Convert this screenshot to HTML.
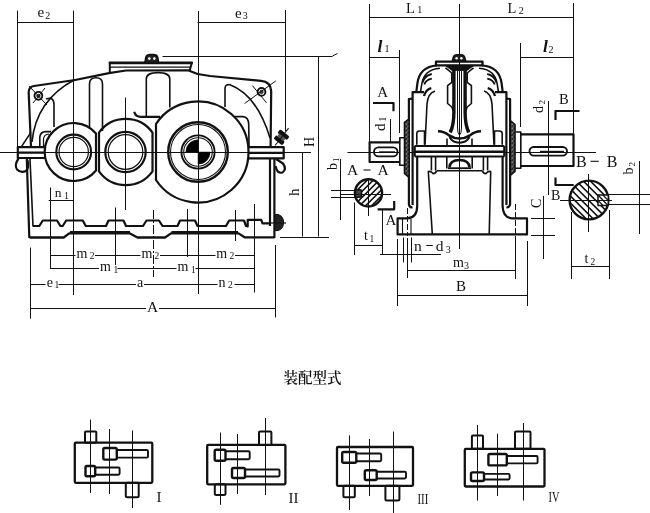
<!DOCTYPE html>
<html lang="zh"><head><meta charset="utf-8"><title>装配型式</title>
<style>
html,body{margin:0;padding:0;background:#fff;}
body{width:650px;height:513px;overflow:hidden;}
svg{display:block;will-change:transform;}
svg text{font-family:"Liberation Serif","Noto Serif CJK SC",serif;fill:#111;stroke:none;}
</style></head><body>
<svg width="650" height="513" viewBox="0 0 650 513" stroke="#111" fill="none" stroke-linecap="butt" stroke-linejoin="round">
<rect x="0" y="0" width="650" height="513" fill="#fff" stroke="none"/>
<g id="leftview">
<line x1="0" y1="152.5" x2="311" y2="152.5" stroke-width="1.0" />
<line x1="17.5" y1="10.5" x2="17.5" y2="148" stroke-width="1.0" />
<line x1="73.5" y1="10.5" x2="73.5" y2="295" stroke-width="1.0" />
<line x1="125.5" y1="97.5" x2="125.5" y2="210" stroke-width="1.0" />
<line x1="198.5" y1="11" x2="198.5" y2="294" stroke-width="1.0" />
<line x1="285.5" y1="10" x2="285.5" y2="131" stroke-width="1.0" />
<line x1="17.5" y1="22.5" x2="73.7" y2="22.5" stroke-width="1.0" />
<line x1="197.5" y1="22.5" x2="285.5" y2="22.5" stroke-width="1.0" />
<text x="37.5" y="17.2" font-size="15" text-anchor="start">e<tspan font-size="10" dx="1" dy="1.5" font-style="normal" font-weight="normal">2</tspan></text>
<text x="235" y="17.6" font-size="15" text-anchor="start">e<tspan font-size="10" dx="1" dy="1.5" font-style="normal" font-weight="normal">3</tspan></text>
<line x1="108.8" y1="62.9" x2="192.8" y2="62.9" stroke-width="2.6" />
<line x1="109.5" y1="67.2" x2="191" y2="67.2" stroke-width="1.3" />
<path d="M109.8,62 L109.8,72.8 M192,62 L189.5,71.2" stroke-width="2" fill="none" />
<path d="M145,62.5 L145.8,57.5 Q146.5,54.6 150,54.6 L153.5,54.6 Q157,54.6 157.8,57.5 L158.5,62.5 Z" stroke-width="1.6" fill="#222" />
<circle cx="149.3" cy="58.6" r="1.3" fill="#fff" stroke="none"/><circle cx="154.3" cy="58.6" r="1.3" fill="#fff" stroke="none"/>
<path d="M31,147 L28.7,93 Q28.3,87 34,86 L75,80 L109,73.2 L126,70.5 L188,70.3 L197.5,74 L210,76 L261,80.9 Q270.8,81.8 271.2,91 L270.6,146" stroke-width="2.2" fill="none" />
<path d="M30.9,132.4 L21.6,146.4" stroke-width="1.6" fill="none" />
<path d="M75,79.5 Q36,100 32,142" stroke-width="1.6" fill="none" />
<path d="M46,99 Q53.5,96 54,104 L54,127" stroke-width="1.6" fill="none" />
<circle cx="38.4" cy="95.8" r="3.9" stroke-width="1.9" fill="none"/>
<circle cx="38.4" cy="95.8" r="1.6" stroke-width="1" fill="#555"/>
<line x1="29" y1="86" x2="47" y2="105" stroke-width="1.0" />
<line x1="45" y1="88" x2="33" y2="103" stroke-width="1.0" />
<circle cx="261.5" cy="91.9" r="3.9" stroke-width="1.9" fill="none"/>
<circle cx="261.5" cy="91.9" r="1.6" stroke-width="1" fill="#555"/>
<line x1="252.4" y1="85.6" x2="266.5" y2="102.8" stroke-width="1.0" />
<line x1="275.8" y1="80.9" x2="244.6" y2="103.5" stroke-width="1.0" />
<path d="M89.5,127 L89.5,84 Q89.5,77.8 96,77.8 Q102.5,77.8 102.5,84 L102.5,131" stroke-width="1.6" fill="none" />
<path d="M146.3,116 L146.3,79 Q146.3,72.6 158,72.6 Q169.8,72.6 169.8,79 L169.8,107.5" stroke-width="1.6" fill="none" />
<path d="M134.2,111.8 Q135.5,116.9 141,116.9 L160,116.9" stroke-width="2.2" fill="none" />
<path d="M225,107 L225,88.5 Q225.3,83.8 230,84.8 Q257,95 270,138" stroke-width="1.6" fill="none" />
<path d="M235,116.6 L243,116.6 Q248.4,117 248.7,124 L249,146" stroke-width="1.6" fill="none" />
<path d="M96,133.5 A29 29 0 1 0 96,170.5 Z" stroke-width="2.2" fill="none" />
<path d="M99,132.6 A33 33 0 0 1 152.5,132.6 L152.5,171.4 A33 33 0 0 1 99,171.4 Z" stroke-width="2.2" fill="none" />
<path d="M156,124 A50.5 50.5 0 1 1 156,180 Z" stroke-width="2.2" fill="none" />
<path d="M39.8,147 L39.8,137 Q40.3,131.6 46,131.6 L51,131.6" stroke-width="1.6" fill="none" />
<path d="M43.5,147 L43.5,139 Q44,134.3 49,134 " stroke-width="1.2" fill="none" />
<circle cx="73.7" cy="152" r="17.4" stroke-width="2.1" fill="none"/>
<circle cx="73.7" cy="152" r="14.7" stroke-width="1.2" fill="none"/>
<circle cx="125.5" cy="152" r="20.2" stroke-width="2.2" fill="none"/>
<circle cx="125.5" cy="152" r="17.3" stroke-width="1.2" fill="none"/>
<circle cx="198" cy="152" r="29.8" stroke-width="2.4" fill="none"/>
<circle cx="198" cy="152" r="27.5" stroke-width="1.1" fill="none"/>
<circle cx="198" cy="152" r="16.6" stroke-width="1.9" fill="none"/>
<circle cx="198" cy="152" r="14.3" stroke-width="1.1" fill="none"/>
<path d="M198,152 L198,139.8 A12.2 12.2 0 0 0 185.8,152 Z" stroke-width="0.5" fill="#000" />
<path d="M198,152 L198,164.2 A12.2 12.2 0 0 0 210.2,152 Z" stroke-width="0.5" fill="#000" />
<path d="M45,147.2 L17.8,147.2 L17.8,158 L45.5,158 M17.8,152.6 L45,152.6" stroke-width="2.2" fill="none" />
<path d="M18.5,158.5 Q14,165 17,169.5 Q21,173.5 26,171 Q29.5,167 27.5,160" stroke-width="2.2" fill="none" />
<path d="M248.5,147.2 L283.7,147.2 L283.7,158.3 L248.5,158.3 M248.5,152.8 L283.7,152.8" stroke-width="2.2" fill="none" />
<path d="M276,159 L283,163.5 Q287,169 282.5,172.5 Q277,174 275.5,166" stroke-width="2.2" fill="none" />
<g transform="translate(280.6,138.4) rotate(38)"><rect x="-6" y="-7" width="12" height="4.6" rx="1.5" fill="#111" stroke="none"/><rect x="-5.5" y="0" width="11" height="4.6" rx="1.5" fill="#111" stroke="none"/><rect x="-4" y="-3" width="8" height="3.5" fill="#555" stroke="none"/><line x1="0" y1="-13" x2="0" y2="9" stroke-width="1"/></g>
<path d="M26.8,159 L29.3,238" stroke-width="2.2" fill="none" />
<path d="M30,159 L33,226" stroke-width="1.6" fill="none" />
<path d="M270,159 L270,226 M274.4,159 L274.4,238" stroke-width="2.2" fill="none" />
<path d="M32.5,226 L39.3,226 L42.8,220.5 L57,220.5 L60.4,226 L62.7,226 L66.2,220.5 L82.8,220.5 L85.8,226 L106,226 L108.5,220.5 L123.5,220.5 L126,226 L143,226 L146.5,220.5 L159,220.5 L162.5,226 L177.5,226 L180,220.5 L195,220.5 L197.5,226 L226,226 L229.2,220.5 L244,220.5 L246,226 L247.7,226.3 L247.7,219.8 L261.2,219.8 L262.5,223.3 L270,223.3" stroke-width="2.2" fill="none" />
<path d="M29.5,237.5 L63.7,237.5 L69.2,233.4 L130,233.4 L137.5,237.5 L165,237.5 L171,233.4 L238.5,233.4 L244.6,237.3 L274.5,237.3" stroke-width="2.3" fill="none" />
<path d="M70,232.6 L130,232.6 M171.5,232.6 L238,232.6" stroke-width="3" fill="none" />
<path d="M275.2,214.5 L278,214.5 Q283.6,216 283.6,222.5 Q283.6,229 278,230.6 L275.2,230.6 Z" stroke-width="1" fill="#222" />
<line x1="270" y1="223" x2="286" y2="223" stroke-width="1.2" />
<line x1="50.5" y1="187.5" x2="50.5" y2="269" stroke-width="1.0" />
<line x1="115.5" y1="207.5" x2="115.5" y2="265" stroke-width="1.0" />
<line x1="153.5" y1="210" x2="153.5" y2="277" stroke-width="1.0" stroke-dasharray="9 2 2 2"/>
<line x1="187.5" y1="209" x2="187.5" y2="257" stroke-width="1.0" />
<line x1="235.5" y1="210" x2="235.5" y2="241" stroke-width="1.0" />
<line x1="254.5" y1="204" x2="254.5" y2="292.5" stroke-width="1.0" />
<line x1="30.5" y1="247.5" x2="30.5" y2="318.7" stroke-width="1.0" />
<line x1="275.5" y1="245" x2="275.5" y2="317.5" stroke-width="1.0" />
<line x1="48.7" y1="200.5" x2="73.7" y2="200.5" stroke-width="1.0" />
<text x="54.8" y="196.5" font-size="13.5" text-anchor="start">n<tspan font-size="10" dx="2.5" dy="2" font-style="normal" font-weight="normal">1</tspan></text>
<line x1="50" y1="255.5" x2="75.5" y2="255.5" stroke-width="1.0" />
<line x1="95" y1="255.5" x2="140.5" y2="255.5" stroke-width="1.0" />
<line x1="160" y1="255.5" x2="215.5" y2="255.5" stroke-width="1.0" />
<line x1="235" y1="255.5" x2="254.5" y2="255.5" stroke-width="1.0" />
<text x="76.6" y="257.6" font-size="14" text-anchor="start">m<tspan font-size="9.5" dx="2.2" dy="1.2" font-style="normal" font-weight="normal">2</tspan></text>
<text x="141.4" y="257.6" font-size="14" text-anchor="start">m<tspan font-size="9.5" dx="2.2" dy="1.2" font-style="normal" font-weight="normal">2</tspan></text>
<text x="216.3" y="257.6" font-size="14" text-anchor="start">m<tspan font-size="9.5" dx="2.2" dy="1.2" font-style="normal" font-weight="normal">2</tspan></text>
<line x1="50" y1="268.5" x2="99" y2="268.5" stroke-width="1.0" />
<line x1="117.5" y1="268.5" x2="176.5" y2="268.5" stroke-width="1.0" />
<line x1="195.5" y1="268.5" x2="254.5" y2="268.5" stroke-width="1.0" />
<text x="100" y="271.3" font-size="14" text-anchor="start">m<tspan font-size="9.5" dx="2.6" dy="1.2" font-style="normal" font-weight="normal">1</tspan></text>
<text x="177.6" y="271.3" font-size="14" text-anchor="start">m<tspan font-size="9.5" dx="2.6" dy="1.2" font-style="normal" font-weight="normal">1</tspan></text>
<line x1="30.5" y1="284.5" x2="45.5" y2="284.5" stroke-width="1.0" />
<line x1="58.5" y1="284.5" x2="136" y2="284.5" stroke-width="1.0" />
<line x1="144" y1="284.5" x2="217.5" y2="284.5" stroke-width="1.0" />
<line x1="234.5" y1="284.5" x2="254.5" y2="284.5" stroke-width="1.0" />
<text x="46.8" y="286.7" font-size="14" text-anchor="start">e<tspan font-size="9.5" dx="1.4" dy="1.2" font-style="normal" font-weight="normal">1</tspan></text>
<text x="137" y="286.7" font-size="14" text-anchor="start">a</text>
<text x="218.4" y="286.7" font-size="14" text-anchor="start">n<tspan font-size="9.5" dx="2.6" dy="1.2" font-style="normal" font-weight="normal">2</tspan></text>
<line x1="30.5" y1="308.5" x2="146" y2="308.5" stroke-width="1.0" />
<line x1="159" y1="308.5" x2="275" y2="308.5" stroke-width="1.0" />
<text x="147" y="312" font-size="15.5" text-anchor="start">A</text>
<line x1="162.5" y1="56.5" x2="332.5" y2="56.5" stroke-width="1.0" />
<line x1="332.5" y1="56" x2="337.5" y2="53.5" stroke-width="1.0" />
<line x1="318.5" y1="56" x2="318.5" y2="236.5" stroke-width="1.0" />
<line x1="302.5" y1="152" x2="302.5" y2="236.5" stroke-width="1.0" />
<line x1="280" y1="237.5" x2="329" y2="237.5" stroke-width="1.0" />
<text x="314" y="147" font-size="14" text-anchor="start" transform="rotate(-90 314 147)">H</text>
<text x="299" y="196" font-size="15" text-anchor="start" transform="rotate(-90 299 196)">h</text>
</g>
<g id="rightview">
<line x1="347.5" y1="152.5" x2="596" y2="152.5" stroke-width="1.0" />
<line x1="459.5" y1="4" x2="459.5" y2="249" stroke-width="1.0" />
<line x1="369.5" y1="4" x2="369.5" y2="143" stroke-width="1.0" />
<line x1="573.5" y1="3" x2="573.5" y2="135" stroke-width="1.0" />
<line x1="369" y1="17.5" x2="573.5" y2="17.5" stroke-width="1.0" />
<text x="406" y="12.6" font-size="14.5" text-anchor="start">L<tspan font-size="10" dx="2.5" dy="0.8" font-style="normal" font-weight="normal">1</tspan></text>
<text x="507.5" y="13.3" font-size="14.5" text-anchor="start">L<tspan font-size="10" dx="2.5" dy="0.3" font-style="normal" font-weight="normal">2</tspan></text>
<line x1="399.5" y1="50" x2="399.5" y2="133" stroke-width="1.0" />
<line x1="369" y1="57.5" x2="399.6" y2="57.5" stroke-width="1.0" />
<text x="377.5" y="51.8" font-size="17.5" text-anchor="start" font-style="italic" font-weight="bold">l<tspan font-size="10" dx="2" dy="0.6" font-style="normal" font-weight="normal">1</tspan></text>
<line x1="520.5" y1="43" x2="520.5" y2="127" stroke-width="1.0" />
<line x1="520.7" y1="57.5" x2="573.5" y2="57.5" stroke-width="1.0" />
<text x="543" y="52" font-size="17.5" text-anchor="start" font-style="italic" font-weight="bold">l<tspan font-size="10" dx="0.5" dy="0.5" font-style="normal" font-weight="normal">2</tspan></text>
<g><path d="M437,65.5 Q419.5,66.5 417.3,84 L416.3,92.2" stroke-width="2.2" fill="none"/>
<path d="M440,68.3 Q424,69.5 421.8,84 L420.5,92" stroke-width="1.6" fill="none"/>
<path d="M431.8,74 Q424.5,75.5 422.6,82.5" stroke-width="1.9" fill="none"/>
<path d="M431.8,78.6 Q426,79.5 424.3,84.5" stroke-width="1.9" fill="none"/>
<path d="M431.3,88.2 Q426,89.5 424,96" stroke-width="2.4" fill="none"/>
<path d="M435,91 Q428,93 427,104 L425,144.8" stroke-width="1.6" fill="none"/>
<path d="M424,92.2 L412.6,92.2 L412.6,205" stroke-width="2.2" fill="none"/>
<path d="M412.6,98.7 L408.9,99 L408.9,204.5 Q409.5,207.5 412.6,207.5" stroke-width="2.2" fill="none"/>
<path d="M416.8,144.8 L416.8,133.5 Q417,131 419.5,131 L424.5,131 L424.5,144.8" stroke-width="1.6" fill="none"/>
<path d="M445.5,67.8 L451.8,73 L451.8,82.3 L447.6,85.6 L447.6,103.5 L451.8,107 L454,113 Q453.5,125 449.5,131.5" stroke-width="1.6" fill="none"/>
<path d="M453.9,70 L453.9,112 Q453.9,125 450.3,132.5" stroke-width="3.4" fill="none"/>
<path d="M457.5,71 L457.5,128 Q457.6,134 459.5,135" stroke-width="1" fill="none"/>
<path d="M438,131.3 Q444.5,131.5 449,135.4 Q454,138.6 459.5,138.6" stroke-width="2.5" fill="none"/>
<path d="M449.5,137 Q452.5,142.7 459.5,142.7" stroke-width="2" fill="none"/>
<path d="M447,138.5 L447,145" stroke-width="1.6" fill="none"/>
<path d="M431.4,156 L431.4,170.5 M435.6,156 L435.6,170.5 M446.8,156 L446.8,168.5" stroke-width="1.6" fill="none"/>
<path d="M449.5,167.3 Q450,160 459.5,160" stroke-width="2.6" fill="none"/>
<path d="M448,168.2 L459.5,168.2" stroke-width="1.8" fill="none"/></g>
<g transform="translate(919.0,0) scale(-1,1)"><path d="M437,65.5 Q419.5,66.5 417.3,84 L416.3,92.2" stroke-width="2.2" fill="none"/>
<path d="M440,68.3 Q424,69.5 421.8,84 L420.5,92" stroke-width="1.6" fill="none"/>
<path d="M431.8,74 Q424.5,75.5 422.6,82.5" stroke-width="1.9" fill="none"/>
<path d="M431.8,78.6 Q426,79.5 424.3,84.5" stroke-width="1.9" fill="none"/>
<path d="M431.3,88.2 Q426,89.5 424,96" stroke-width="2.4" fill="none"/>
<path d="M435,91 Q428,93 427,104 L425,144.8" stroke-width="1.6" fill="none"/>
<path d="M424,92.2 L412.6,92.2 L412.6,205" stroke-width="2.2" fill="none"/>
<path d="M412.6,98.7 L408.9,99 L408.9,204.5 Q409.5,207.5 412.6,207.5" stroke-width="2.2" fill="none"/>
<path d="M416.8,144.8 L416.8,133.5 Q417,131 419.5,131 L424.5,131 L424.5,144.8" stroke-width="1.6" fill="none"/>
<path d="M445.5,67.8 L451.8,73 L451.8,82.3 L447.6,85.6 L447.6,103.5 L451.8,107 L454,113 Q453.5,125 449.5,131.5" stroke-width="1.6" fill="none"/>
<path d="M453.9,70 L453.9,112 Q453.9,125 450.3,132.5" stroke-width="3.4" fill="none"/>
<path d="M457.5,71 L457.5,128 Q457.6,134 459.5,135" stroke-width="1" fill="none"/>
<path d="M438,131.3 Q444.5,131.5 449,135.4 Q454,138.6 459.5,138.6" stroke-width="2.5" fill="none"/>
<path d="M449.5,137 Q452.5,142.7 459.5,142.7" stroke-width="2" fill="none"/>
<path d="M447,138.5 L447,145" stroke-width="1.6" fill="none"/>
<path d="M431.4,156 L431.4,170.5 M435.6,156 L435.6,170.5 M446.8,156 L446.8,168.5" stroke-width="1.6" fill="none"/>
<path d="M449.5,167.3 Q450,160 459.5,160" stroke-width="2.6" fill="none"/>
<path d="M448,168.2 L459.5,168.2" stroke-width="1.8" fill="none"/></g>
<defs><pattern id="hp" width="3" height="3" patternUnits="userSpaceOnUse" patternTransform="rotate(-45)"><rect width="3" height="3" fill="#fff"/><line x1="0" y1="1.5" x2="3" y2="1.5" stroke="#111" stroke-width="0.9"/></pattern></defs>
<path d="M409.2,119 L404.5,122.3 L404.5,173.5 L409.2,177.6 Z" stroke-width="1.6" fill="url(#hp)" />
<path d="M404.5,137.7 L399.8,137.7 L399.8,165.3 L404.5,165.3 Z" stroke-width="1.6" fill="#fff" />
<path d="M510.3,120.5 L515,124.5 L515,171.5 L510.3,175.5 Z" stroke-width="1.6" fill="url(#hp)" />
<path d="M436.5,170.7 Q435.8,173.6 433,173.6 Q431.5,171 428.3,171.5 L432.3,234.3" stroke-width="1.6" fill="none" />
<path d="M482.5,170.7 Q483.2,173.6 486,173.6 Q487.5,171 490.7,171.5 L489.2,234.3" stroke-width="1.6" fill="none" />
<path d="M436.5,170.7 L482.5,170.7" stroke-width="1.6" fill="none" />
<path d="M417.2,156 L417.2,206 Q417,218.3 407,218.3 L397.6,218.3 L397.6,234.4 L527,234.4 L527,218.3 L513,218.3 Q503,218.3 502.6,206 L502.6,156" stroke-width="2.2" fill="none" />
<path d="M402.5,219 L402.5,234 M411,219 L411,234" stroke-width="1.1" fill="none" />
<rect x="436" y="61.7" width="46.5" height="3.6" rx="0" stroke-width="2.3" fill="none"/>
<path d="M445,65.4 L474,65.4 L467,70.5 L452,70.5 Z" stroke-width="0.8" fill="#111" />
<path d="M452.3,61 L453.3,57.3 Q454,54.8 457,54.8 L461,54.8 Q464,54.8 464.7,57.3 L465.7,61 Z" stroke-width="1.5" fill="#222" />
<circle cx="456.6" cy="58.3" r="1.2" fill="#fff" stroke="none"/><circle cx="461.4" cy="58.3" r="1.2" fill="#fff" stroke="none"/>
<path d="M414.7,146 L504.3,146 M414.7,151.6 L504.3,151.6 M414.7,156.4 L504.3,156.4" stroke-width="2" fill="none" />
<path d="M414.7,146 L414.7,156.4 M504.3,146 L504.3,156.4" stroke-width="2.2" fill="none" />
<path d="M399.6,142.3 L369.6,142.3 L369.6,162 L399.6,162" stroke-width="2.2" fill="none" />
<rect x="374" y="147.4" width="23.5" height="9" rx="4.5" stroke-width="1.9" fill="none"/>
<line x1="379" y1="152" x2="395" y2="152" stroke-width="1.4" />
<path d="M520.8,134.4 L573.5,134.4 L573.5,166 L520.8,166" stroke-width="2.2" fill="none" />
<path d="M515.5,132 L520.8,132 L520.8,168.3 L515.5,168.3" stroke-width="1.6" fill="none" />
<rect x="529.5" y="147" width="37.5" height="8.6" rx="4.3" stroke-width="1.9" fill="none"/>
<line x1="540" y1="151.5" x2="564" y2="151.5" stroke-width="1.4" />
<path d="M373,103 L393.5,103 L393.5,111.3" stroke-width="2.2" fill="none" />
<text x="377.3" y="97.3" font-size="15" text-anchor="start">A</text>
<text x="385" y="131" font-size="15" text-anchor="start" transform="rotate(-90 385 131)">d<tspan font-size="9.5" dx="2" dy="0.5" font-style="normal" font-weight="normal">1</tspan></text>
<line x1="390.5" y1="119" x2="390.5" y2="143" stroke-width="1.0" />
<path d="M377.6,209.3 L394.2,209.3 L394.2,201" stroke-width="2.2" fill="none" />
<text x="385.5" y="225" font-size="15" text-anchor="start">A</text>
<text x="347" y="175" font-size="15.5" text-anchor="start">A</text>
<line x1="363.5" y1="170" x2="370.5" y2="170" stroke-width="1.1" />
<text x="377.5" y="175" font-size="15.5" text-anchor="start">A</text>
<defs><clipPath id="ca"><circle cx="368.5" cy="192.9" r="13.8"/></clipPath><clipPath id="cb"><circle cx="589" cy="200" r="19.6"/></clipPath></defs>
<g clip-path="url(#ca)">
<line x1="309.7" y1="213.7" x2="349.7" y2="173.7" stroke-width="1.6" />
<line x1="315.7" y1="213.7" x2="355.7" y2="173.7" stroke-width="1.6" />
<line x1="321.7" y1="213.7" x2="361.7" y2="173.7" stroke-width="1.6" />
<line x1="327.7" y1="213.7" x2="367.7" y2="173.7" stroke-width="1.6" />
<line x1="333.7" y1="213.7" x2="373.7" y2="173.7" stroke-width="1.6" />
<line x1="339.7" y1="213.7" x2="379.7" y2="173.7" stroke-width="1.6" />
<line x1="345.7" y1="213.7" x2="385.7" y2="173.7" stroke-width="1.6" />
<line x1="351.7" y1="213.7" x2="391.7" y2="173.7" stroke-width="1.6" />
<line x1="357.7" y1="213.7" x2="397.7" y2="173.7" stroke-width="1.6" />
<line x1="363.7" y1="213.7" x2="403.7" y2="173.7" stroke-width="1.6" />
<line x1="369.7" y1="213.7" x2="409.7" y2="173.7" stroke-width="1.6" />
<line x1="375.7" y1="213.7" x2="415.7" y2="173.7" stroke-width="1.6" />
<line x1="381.7" y1="213.7" x2="421.7" y2="173.7" stroke-width="1.6" />
<line x1="387.7" y1="213.7" x2="427.7" y2="173.7" stroke-width="1.6" />
</g>
<circle cx="368.5" cy="192.9" r="13.6" stroke-width="2.4" fill="none"/>
<rect x="355.5" y="189.8" width="6" height="7.4" rx="1.5" stroke-width="1.6" fill="#444"/>
<line x1="340" y1="194.5" x2="391" y2="194.5" stroke-width="1.0" />
<line x1="368.5" y1="179" x2="368.5" y2="216" stroke-width="1.0" />
<line x1="331" y1="190.5" x2="356" y2="190.5" stroke-width="1.0" />
<line x1="331" y1="197.5" x2="356" y2="197.5" stroke-width="1.0" />
<line x1="340.5" y1="159" x2="340.5" y2="220" stroke-width="1.0" />
<text x="337" y="170" font-size="14" text-anchor="start" transform="rotate(-90 337 170)">b<tspan font-size="9" dx="1" dy="2" font-style="normal" font-weight="normal">1</tspan></text>
<line x1="354.5" y1="202.5" x2="354.5" y2="255" stroke-width="1.0" />
<line x1="382.5" y1="210" x2="382.5" y2="255" stroke-width="1.0" />
<line x1="354.5" y1="245.5" x2="382" y2="245.5" stroke-width="1.0" />
<text x="364" y="239.5" font-size="14" text-anchor="start">t<tspan font-size="9.5" dx="1.5" dy="2" font-style="normal" font-weight="normal">1</tspan></text>
<path d="M555.5,120 L555.5,111 L579.5,111" stroke-width="2.2" fill="none" />
<text x="559" y="104.4" font-size="14.5" text-anchor="start">B</text>
<text x="543.2" y="113" font-size="14" text-anchor="start" transform="rotate(-90 543.2 113)">d<tspan font-size="9" dx="1.5" dy="1.5" font-style="normal" font-weight="normal">2</tspan></text>
<line x1="548.5" y1="101" x2="548.5" y2="195" stroke-width="1.0" />
<text x="576" y="166.8" font-size="16" text-anchor="start">B</text>
<line x1="590.5" y1="161.3" x2="598.7" y2="161.3" stroke-width="1.1" />
<text x="606.8" y="166.8" font-size="16" text-anchor="start">B</text>
<path d="M555.5,177.5 L555.5,185 L573.7,185" stroke-width="2.2" fill="none" />
<text x="551" y="200" font-size="14" text-anchor="start">B</text>
<g clip-path="url(#cb)">
<line x1="514.3" y1="175" x2="564.3" y2="225" stroke-width="1.6" />
<line x1="521.3" y1="175" x2="571.3" y2="225" stroke-width="1.6" />
<line x1="528.3" y1="175" x2="578.3" y2="225" stroke-width="1.6" />
<line x1="535.3" y1="175" x2="585.3" y2="225" stroke-width="1.6" />
<line x1="542.3" y1="175" x2="592.3" y2="225" stroke-width="1.6" />
<line x1="549.3" y1="175" x2="599.3" y2="225" stroke-width="1.6" />
<line x1="556.3" y1="175" x2="606.3" y2="225" stroke-width="1.6" />
<line x1="563.3" y1="175" x2="613.3" y2="225" stroke-width="1.6" />
<line x1="570.3" y1="175" x2="620.3" y2="225" stroke-width="1.6" />
<line x1="577.3" y1="175" x2="627.3" y2="225" stroke-width="1.6" />
<line x1="584.3" y1="175" x2="634.3" y2="225" stroke-width="1.6" />
<line x1="591.3" y1="175" x2="641.3" y2="225" stroke-width="1.6" />
<line x1="598.3" y1="175" x2="648.3" y2="225" stroke-width="1.6" />
<line x1="605.3" y1="175" x2="655.3" y2="225" stroke-width="1.6" />
<line x1="612.3" y1="175" x2="662.3" y2="225" stroke-width="1.6" />
</g>
<circle cx="589" cy="200" r="19.4" stroke-width="2.4" fill="none"/>
<rect x="598" y="195" width="10.3" height="10.6" rx="0" stroke-width="1.5" fill="#fff"/>
<line x1="598" y1="195" x2="608" y2="205.5" stroke-width="1.2" />
<line x1="603" y1="195" x2="608" y2="200.3" stroke-width="1.2" />
<line x1="598" y1="200.3" x2="603" y2="205.5" stroke-width="1.2" />
<line x1="560" y1="200.5" x2="612" y2="200.5" stroke-width="1.0" />
<line x1="588.5" y1="174" x2="588.5" y2="232" stroke-width="1.0" />
<line x1="608" y1="194.5" x2="650" y2="194.5" stroke-width="1.0" />
<line x1="608" y1="204.5" x2="650" y2="204.5" stroke-width="1.0" />
<line x1="639.5" y1="161" x2="639.5" y2="234" stroke-width="1.0" />
<text x="632.5" y="174.5" font-size="14" text-anchor="start" transform="rotate(-90 632.5 174.5)">b<tspan font-size="9" dx="1" dy="2" font-style="normal" font-weight="normal">2</tspan></text>
<line x1="571.5" y1="212" x2="571.5" y2="279" stroke-width="1.0" />
<line x1="609.5" y1="210" x2="609.5" y2="279" stroke-width="1.0" />
<line x1="571" y1="266.5" x2="609.5" y2="266.5" stroke-width="1.0" />
<text x="584.5" y="262.5" font-size="14" text-anchor="start">t<tspan font-size="9.5" dx="2" dy="2" font-style="normal" font-weight="normal">2</tspan></text>
<line x1="543.5" y1="196" x2="543.5" y2="259" stroke-width="1.0" />
<line x1="531" y1="218.5" x2="555" y2="218.5" stroke-width="1.0" />
<line x1="531" y1="235.5" x2="555" y2="235.5" stroke-width="1.0" />
<text x="541" y="208" font-size="14" text-anchor="start" transform="rotate(-90 541 208)">C</text>
<line x1="397.5" y1="239" x2="397.5" y2="306" stroke-width="1.0" />
<line x1="527.5" y1="241" x2="527.5" y2="306" stroke-width="1.0" />
<line x1="407.5" y1="208" x2="407.5" y2="236" stroke-width="1.0" stroke-dasharray="6 2"/>
<line x1="515.5" y1="204" x2="515.5" y2="236" stroke-width="1.0" stroke-dasharray="6 2"/>
<line x1="407.5" y1="238" x2="407.5" y2="278" stroke-width="1.0" />
<line x1="515.5" y1="236" x2="515.5" y2="279" stroke-width="1.0" />
<line x1="403.5" y1="237.5" x2="403.5" y2="262.5" stroke-width="1.0" />
<line x1="411.5" y1="237.5" x2="411.5" y2="262.5" stroke-width="1.0" />
<line x1="380" y1="254.5" x2="441" y2="254.5" stroke-width="1.0" />
<text x="414" y="251" font-size="15.5" text-anchor="start">n</text>
<line x1="426.3" y1="245.5" x2="432.8" y2="245.5" stroke-width="1" />
<text x="435.8" y="251" font-size="15.5" text-anchor="start">d<tspan font-size="10" dx="2.2" dy="1.5" font-style="normal" font-weight="normal">3</tspan></text>
<line x1="407.5" y1="270.5" x2="515" y2="270.5" stroke-width="1.0" />
<text x="453" y="267" font-size="14" text-anchor="start">m<tspan font-size="10" dx="0" dy="2" font-style="normal" font-weight="normal">3</tspan></text>
<line x1="397.5" y1="295.5" x2="527" y2="295.5" stroke-width="1.0" />
<text x="456" y="291" font-size="15" text-anchor="start">B</text>
</g>
<text x="283.5" y="383" font-size="14.5" font-weight="600" font-family="'Liberation Serif','Noto Serif CJK SC',serif">装配型式</text>
<g id="asm">
<rect x="74.8" y="442.7" width="77.5" height="40.1" rx="1" stroke-width="2.3" fill="none"/>
<rect x="85" y="431.5" width="11.3" height="11.2" rx="1" stroke-width="2" fill="none"/>
<rect x="125.8" y="482.8" width="12.9" height="14.4" rx="1.5" stroke-width="2" fill="none"/>
<rect x="116.3" y="450" width="31.700000000000003" height="7.600000000000023" rx="1.2" stroke-width="1.9" fill="none"/>
<rect x="103.3" y="448" width="13.5" height="11.600000000000023" rx="1.5" stroke-width="2.4" fill="#fff"/>
<rect x="94.7" y="467.5" width="24.89999999999999" height="7.199999999999989" rx="1.2" stroke-width="1.9" fill="none"/>
<rect x="85.5" y="466" width="9.700000000000003" height="10.199999999999989" rx="1.5" stroke-width="2.4" fill="#fff"/>
<line x1="90.5" y1="419.7" x2="90.5" y2="493" stroke-width="1.0" />
<line x1="109.5" y1="429" x2="109.5" y2="494" stroke-width="1.0" />
<line x1="132.5" y1="430.5" x2="132.5" y2="508" stroke-width="1.0" />
<text x="156.5" y="501.5" font-size="15" text-anchor="start">I</text>
<rect x="207.2" y="444.9" width="78.2" height="39.4" rx="1" stroke-width="2.3" fill="none"/>
<rect x="259" y="431.5" width="12.4" height="13.4" rx="1" stroke-width="2" fill="none"/>
<rect x="214.8" y="484.3" width="10.7" height="10.7" rx="1.5" stroke-width="2" fill="none"/>
<rect x="225.0" y="451.3" width="24.69999999999999" height="7.899999999999977" rx="1.2" stroke-width="1.9" fill="none"/>
<rect x="214.7" y="449.8" width="10.800000000000011" height="10.899999999999977" rx="1.5" stroke-width="2.4" fill="#fff"/>
<rect x="244.5" y="469.5" width="35.0" height="7.0" rx="1.2" stroke-width="1.9" fill="none"/>
<rect x="232" y="468" width="13" height="10" rx="1.5" stroke-width="2.4" fill="#fff"/>
<line x1="220.5" y1="432.6" x2="220.5" y2="504.8" stroke-width="1.0" />
<line x1="237.5" y1="434" x2="237.5" y2="494" stroke-width="1.0" />
<line x1="265.5" y1="418" x2="265.5" y2="495" stroke-width="1.0" />
<text x="288.5" y="502.5" font-size="15" text-anchor="start">II</text>
<rect x="337" y="447" width="76" height="38.8" rx="1" stroke-width="2.3" fill="none"/>
<rect x="343.4" y="485.8" width="11.4" height="11.4" rx="1.5" stroke-width="2" fill="none"/>
<rect x="385.4" y="485.8" width="14" height="14.7" rx="1.5" stroke-width="2" fill="none"/>
<rect x="355.8" y="453.5" width="25.399999999999977" height="7.800000000000011" rx="1.2" stroke-width="1.9" fill="none"/>
<rect x="342.2" y="452" width="14.100000000000023" height="10.800000000000011" rx="1.5" stroke-width="2.4" fill="#fff"/>
<rect x="376.2" y="471.7" width="29.80000000000001" height="6.800000000000011" rx="1.2" stroke-width="1.9" fill="none"/>
<rect x="364.8" y="470.2" width="11.899999999999977" height="9.800000000000011" rx="1.5" stroke-width="2.4" fill="#fff"/>
<line x1="349.5" y1="435.4" x2="349.5" y2="510" stroke-width="1.0" />
<line x1="369.5" y1="439" x2="369.5" y2="496" stroke-width="1.0" />
<line x1="393.5" y1="431.5" x2="393.5" y2="513" stroke-width="1.0" />
<text x="417.5" y="503.5" font-size="14" textLength="10.8" lengthAdjust="spacingAndGlyphs">III</text>
<rect x="464.8" y="448.8" width="79.7" height="37.7" rx="1" stroke-width="2.3" fill="none"/>
<rect x="471.9" y="435.4" width="11.1" height="13.4" rx="1" stroke-width="2" fill="none"/>
<rect x="515" y="431.5" width="15.5" height="17.3" rx="1" stroke-width="2" fill="none"/>
<rect x="506.3" y="456" width="31.30000000000001" height="7.399999999999977" rx="1.2" stroke-width="1.9" fill="none"/>
<rect x="488.4" y="454" width="18.400000000000034" height="11.399999999999977" rx="1.5" stroke-width="2.4" fill="#fff"/>
<rect x="483.5" y="473.9" width="26.100000000000023" height="5.600000000000023" rx="1.2" stroke-width="1.9" fill="none"/>
<rect x="471" y="472.4" width="13" height="8.600000000000023" rx="1.5" stroke-width="2.4" fill="#fff"/>
<line x1="477.5" y1="425" x2="477.5" y2="500.5" stroke-width="1.0" />
<line x1="497.5" y1="433.7" x2="497.5" y2="496" stroke-width="1.0" />
<line x1="523.5" y1="423" x2="523.5" y2="500.5" stroke-width="1.0" />
<text x="548.5" y="502" font-size="14" textLength="11" lengthAdjust="spacingAndGlyphs">IV</text>
</g>
</svg>
</body></html>
